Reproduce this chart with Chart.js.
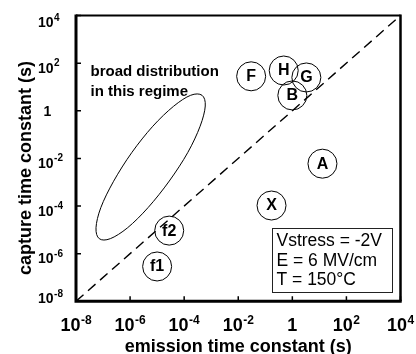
<!DOCTYPE html>
<html>
<head>
<meta charset="utf-8">
<script src="https://cdn.jsdelivr.net/npm/chart.js@4.4.0/dist/chart.umd.min.js"></script>
<style>
  html, body { margin: 0; padding: 0; background: #fff; overflow: hidden; }
  canvas { display: block; }
</style>
</head>
<body>
<canvas id="chart" width="416" height="354" style="width:416px;height:354px"></canvas>
<script>
// Trap labels and their time constants (seconds)
const trapLabels   = ['F', 'H', 'G', 'B', 'A', 'X', 'f2', 'f1'];
const emissionTau  = [0.030, 0.48, 3.3, 1.0, 13, 0.17, 2.8e-5, 1.0e-5];
const captureTau   = [28, 49, 25, 4.4, 0.006, 1.05e-4, 9.3e-6, 2.9e-7];

// Decade exponents used for ticks and tick labels on both axes
const decadeTicks = [-8, -6, -4, -2, 0, 2, 4];

// Reference line: capture time = emission time
const diagonalTau = [1e-8, 1e4];

// Outline of the broad-distribution region, as log10 of the time constants
const regimeEdgeLogEmission = [-3.34, -3.22, -3.41, -3.87, -4.55, -5.33, -6.09, -6.73,
                               -7.14, -7.26, -7.08, -6.61, -5.94, -5.16, -4.39, -3.76];
const regimeEdgeLogCapture  = [0.65, 0.20, -0.65, -1.76, -2.95, -4.06, -4.91, -5.37,
                               -5.37, -4.91, -4.06, -2.96, -1.76, -0.65, 0.19, 0.65];

const regimeNote     = ['broad distribution', 'in this regime'];
const conditionLines = ['Vstress = -2V', 'E = 6 MV/cm', 'T = 150\u00B0C'];
const xTitle = 'emission time constant (s)';
const yTitle = 'capture time constant (s)';

const FONT = '"Liberation Sans", Arial, Helvetica, sans-serif';

function powParts(e) {
  return e === 0 ? { base: '1', sup: '' } : { base: '10', sup: String(e) };
}

const decorations = {
  id: 'decorations',
  afterDatasetsDraw(chart) {
    const { ctx, chartArea: a, scales: { x, y } } = chart;
    ctx.save();
    ctx.fillStyle = '#000';
    ctx.strokeStyle = '#000';

    // closed smooth outline of the distribution region
    const pts = regimeEdgeLogEmission.map((lx, i) => ({
      x: x.getPixelForValue(Math.pow(10, lx)),
      y: y.getPixelForValue(Math.pow(10, regimeEdgeLogCapture[i]))
    }));
    const n = pts.length;
    ctx.beginPath();
    ctx.moveTo(pts[0].x, pts[0].y);
    for (let i = 0; i < n; i++) {
      const p0 = pts[(i - 1 + n) % n], p1 = pts[i], p2 = pts[(i + 1) % n], p3 = pts[(i + 2) % n];
      ctx.bezierCurveTo(
        p1.x + (p2.x - p0.x) / 6, p1.y + (p2.y - p0.y) / 6,
        p2.x - (p3.x - p1.x) / 6, p2.y - (p3.y - p1.y) / 6,
        p2.x, p2.y);
    }
    ctx.closePath();
    ctx.lineWidth = 1;
    ctx.stroke();

    // letters inside the circled points
    const meta = chart.getDatasetMeta(0);
    ctx.font = 'bold 16px ' + FONT;
    ctx.textAlign = 'center';
    ctx.textBaseline = 'middle';
    meta.data.forEach((pt, i) => ctx.fillText(trapLabels[i], pt.x, pt.y + 0.5));

    // note about the distribution region
    ctx.font = 'bold 15px ' + FONT;
    ctx.textAlign = 'left';
    ctx.textBaseline = 'alphabetic';
    regimeNote.forEach((t, i) => ctx.fillText(t, a.left + 14.5, a.top + 60 + i * 20));

    // stress-condition box
    ctx.lineWidth = 1;
    ctx.strokeStyle = '#222';
    ctx.strokeRect(272.5, 228.5, 120, 64);
    ctx.font = '17.5px ' + FONT;
    conditionLines.forEach((t, i) => ctx.fillText(t, 276.5, 246 + i * 19.5));
    ctx.strokeStyle = '#000';

    // inward tick marks
    ctx.lineWidth = 1.5;
    decadeTicks.forEach(e => {
      const px = x.getPixelForValue(Math.pow(10, e));
      const py = y.getPixelForValue(Math.pow(10, e));
      ctx.beginPath();
      ctx.moveTo(px, a.bottom); ctx.lineTo(px, a.bottom - 5);
      ctx.moveTo(a.left, py); ctx.lineTo(a.left + 5, py);
      ctx.stroke();
    });

    // plot frame: heavy left/bottom axes, lighter top/right
    ctx.lineWidth = 2;
    ctx.beginPath(); ctx.moveTo(a.left, a.top); ctx.lineTo(a.right, a.top); ctx.stroke();
    ctx.lineWidth = 2.5;
    ctx.beginPath(); ctx.moveTo(a.right, a.top - 1); ctx.lineTo(a.right, a.bottom); ctx.stroke();
    ctx.lineWidth = 3;
    ctx.beginPath();
    ctx.moveTo(a.left, a.top - 1); ctx.lineTo(a.left, a.bottom);
    ctx.lineTo(a.right + 1.2, a.bottom);
    ctx.stroke();

    // x tick labels (power-of-ten with superscripts)
    decadeTicks.forEach(e => {
      const { base, sup } = powParts(e);
      const px = x.getPixelForValue(Math.pow(10, e));
      ctx.font = 'bold 18px ' + FONT;
      const wb = ctx.measureText(base).width;
      ctx.font = 'bold 12px ' + FONT;
      const ws = sup ? ctx.measureText(sup).width + 0.5 : 0;
      const left = px - (wb + ws) / 2;
      ctx.textAlign = 'left';
      ctx.font = 'bold 18px ' + FONT;
      ctx.fillText(base, left, a.bottom + 30);
      if (sup) {
        ctx.font = 'bold 12px ' + FONT;
        ctx.fillText(sup, left + wb + 0.5, a.bottom + 22.5);
      }
    });

    // y tick labels
    decadeTicks.forEach(e => {
      const { base, sup } = powParts(e);
      const py = y.getPixelForValue(Math.pow(10, e));
      ctx.font = 'bold 14px ' + FONT;
      if (!sup) {
        ctx.textAlign = 'center';
        ctx.fillText(base, 47.5, py + 5);
        return;
      }
      const baseY = Math.min(Math.max(py + 9.5, a.top + 11.5), a.bottom + 2);
      ctx.textAlign = 'left';
      ctx.fillText(base, 38, baseY);
      const wb = ctx.measureText(base).width;
      ctx.font = 'bold 10px ' + FONT;
      ctx.fillText(sup, 38 + wb + 0.5, baseY - 6.5);
    });

    // axis titles
    ctx.font = 'bold 18px ' + FONT;
    ctx.textAlign = 'center';
    ctx.fillText(xTitle, (a.left + a.right) / 2, 351.5);
    ctx.save();
    ctx.translate(31, 168);
    ctx.rotate(-Math.PI / 2);
    ctx.fillText(yTitle, 0, 0);
    ctx.restore();

    ctx.restore();
  }
};

new Chart(document.getElementById('chart'), {
  type: 'scatter',
  data: {
    datasets: [
      {
        label: 'traps',
        data: emissionTau.map((t, i) => ({ x: t, y: captureTau[i] })),
        pointStyle: 'circle',
        pointRadius: 14.5,
        pointHoverRadius: 14.5,
        backgroundColor: 'rgba(0,0,0,0)',
        borderColor: '#000',
        borderWidth: 1,
        showLine: false
      },
      {
        label: 'tau_c = tau_e',
        type: 'line',
        data: diagonalTau.map(t => ({ x: t, y: t })),
        borderColor: '#000',
        borderWidth: 1.4,
        borderDash: [10, 6],
        pointRadius: 0,
        fill: false
      }
    ]
  },
  options: {
    responsive: false,
    maintainAspectRatio: false,
    animation: false,
    devicePixelRatio: 1,
    layout: { padding: { left: 76, right: 6.5, top: 15, bottom: 52.7 } },
    plugins: { legend: { display: false }, tooltip: { enabled: false }, title: { display: false } },
    scales: {
      x: { type: 'logarithmic', min: 1e-8, max: 1e4, display: false },
      y: { type: 'logarithmic', min: 1e-8, max: 1e4, display: false }
    }
  },
  plugins: [decorations]
});
</script>
</body>
</html>
